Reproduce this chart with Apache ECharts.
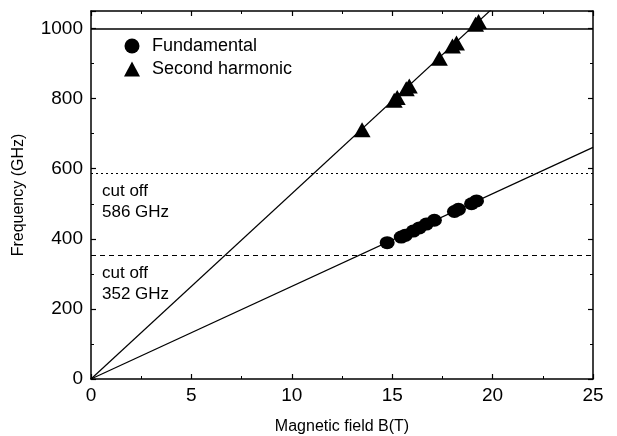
<!DOCTYPE html>
<html>
<head>
<meta charset="utf-8">
<script src="https://cdn.jsdelivr.net/npm/echarts@6/dist/echarts.min.js"></script>
<style>
html,body{margin:0;padding:0;background:#fff;}
#box{width:617px;height:436px;}
</style>
</head>
<body>
<div id="box"></div>
<script>
// measured points, B (T) and frequency (GHz)
const fundamental = [
    [14.75,389],[15.45,405],[15.65,410],[16.05,422],[16.35,431],
    [16.7,442],[17.1,453],[18.1,478],[18.3,484],[18.95,500],[19.2,508]
];
const secondHarmonic = [
    [13.5,711],[15.1,795],[15.25,803],[15.7,828],[15.85,836],
    [17.35,915],[18.0,950],[18.2,959],[19.15,1012],[19.3,1020]
];
// fitted lines through the origin
const fundFit = [[0,0],[25,661]];
const harmFit = [[0,0],[25,1322]];
// horizontal reference levels
const topLevel = 1000;
const cutoffs = [586, 352];
const xTicks = [0,5,10,15,20,25];
const yTicks = [0,200,400,600,800,1000];

const font = "Liberation Sans";
let mycharts = echarts.init(document.getElementById("box"));

function sideAxis(pos, isX){
    return {
        type:"value",
        position:pos,
        min:0,
        max:isX ? 25 : 1050,
        interval:isX ? 5 : 200,
        axisLine:{show:true,onZero:false,lineStyle:{color:"#000",width:1.5}},
        axisTick:{show:true,inside:true,length:5,lineStyle:{color:"#000",width:1.2}},
        minorTick:{show:true,splitNumber:2,length:3,lineStyle:{color:"#000",width:1}},
        axisLabel:{show:false},
        splitLine:{show:false}
    };
}

let xMain = sideAxis("bottom", true);
xMain.name = "Magnetic field B(T)";
xMain.nameLocation = "middle";
xMain.nameGap = 40;
xMain.nameTextStyle = {color:"#000",fontFamily:font,fontSize:16};
xMain.axisLabel = {show:true,color:"#000",fontFamily:font,fontSize:19,margin:7,
    formatter:function(v){ return xTicks.indexOf(v) >= 0 ? String(v) : ""; }};

let yMain = sideAxis("left", false);
yMain.name = "Frequency (GHz)";
yMain.nameLocation = "middle";
yMain.nameGap = 64;
yMain.nameTextStyle = {color:"#000",fontFamily:font,fontSize:16};
yMain.axisLabel = {show:true,color:"#000",fontFamily:font,fontSize:19,margin:8,
    formatter:function(v){ return yTicks.indexOf(v) >= 0 ? String(v) : ""; }};

mycharts.setOption({
    backgroundColor:"#fff",
    animation:false,
    grid:{left:91,right:24,top:11,bottom:57,containLabel:false,outerBoundsMode:"none"},
    legend:{
        orient:"vertical",
        left:119,
        top:32,
        itemGap:5,
        itemWidth:16,
        itemHeight:15,
        textStyle:{color:"#000",fontFamily:font,fontSize:18,padding:[0,0,0,7]},
        data:[
            {name:"Fundamental",icon:"circle"},
            {name:"Second harmonic",icon:"triangle"}
        ]
    },
    xAxis:[xMain, sideAxis("top", true)],
    yAxis:[yMain, sideAxis("right", false)],
    series:[
        {
            name:"fitF",
            type:"line",
            data:fundFit,
            symbol:"none",
            clip:true,
            lineStyle:{color:"#000",width:1.2},
            markLine:{
                silent:true,
                symbol:"none",
                label:{show:false},
                data:[
                    {yAxis:topLevel,lineStyle:{type:"solid",color:"#000",width:1.5}},
                    {yAxis:cutoffs[0],lineStyle:{type:[2,3],color:"#000",width:1.2}},
                    {yAxis:cutoffs[1],lineStyle:{type:[5,4],color:"#000",width:1.2}}
                ]
            }
        },
        {
            name:"fitH",
            type:"line",
            data:harmFit,
            symbol:"none",
            clip:true,
            lineStyle:{color:"#000",width:1.2}
        },
        {
            name:"Fundamental",
            type:"scatter",
            data:fundamental,
            symbol:"circle",
            symbolSize:[15,13],
            itemStyle:{color:"#000",opacity:1}
        },
        {
            name:"Second harmonic",
            type:"scatter",
            data:secondHarmonic,
            symbol:"triangle",
            symbolSize:[17,15],
            itemStyle:{color:"#000",opacity:1}
        }
    ]
});

// cut-off annotations just under each level line
let notes = [];
cutoffs.forEach(function(c){
    let y = mycharts.convertToPixel({yAxisIndex:0}, c);
    notes.push({
        type:"text",
        left:102,
        top:y + 7,
        style:{text:"cut off\n" + c + " GHz",fill:"#000",font:"17px " + font,lineHeight:21}
    });
});
mycharts.setOption({graphic:notes});
</script>
</body>
</html>
